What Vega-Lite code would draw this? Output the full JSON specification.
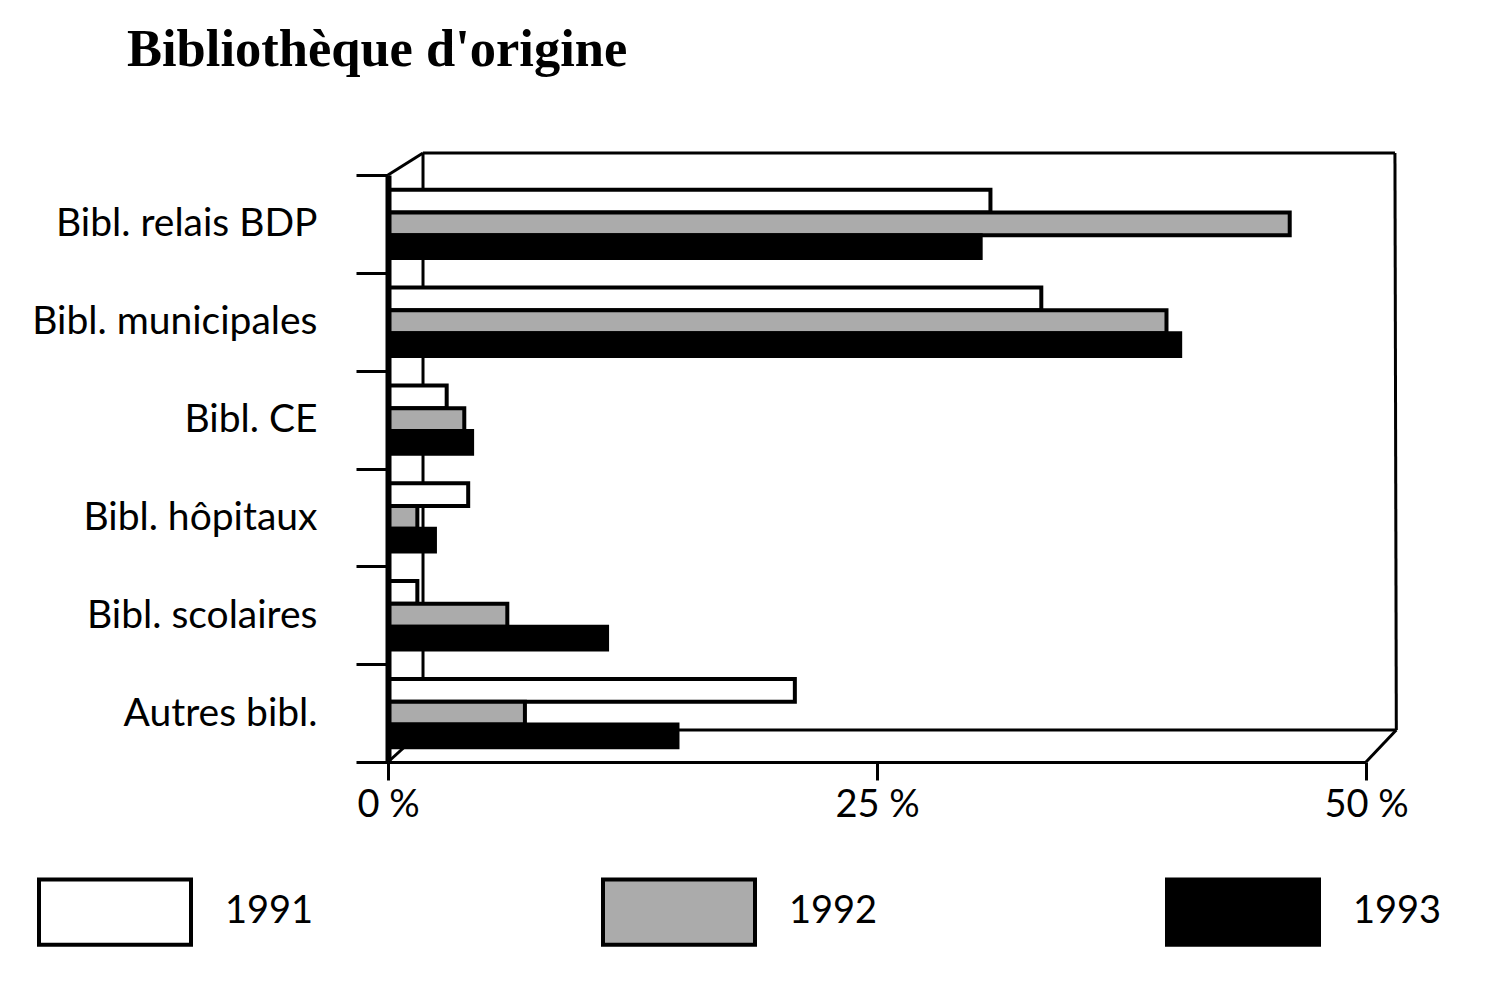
{
  "$schema": "https://vega.github.io/schema/vega-lite/v6.json",
  "width": 978,
  "height": 609,
  "autosize": {"type": "none"},
  "padding": {"left": 388, "top": 153, "right": 119, "bottom": 219},
  "background": "white",
  "config": {"view": {"stroke": null}, "font": "Lato"},
  "title": {
    "text": "Bibliothèque d'origine",
    "anchor": "start",
    "frame": "group",
    "dx": -261,
    "font": "Liberation Serif",
    "fontSize": 52.5,
    "fontWeight": "bold",
    "color": "black",
    "baseline": "alphabetic",
    "offset": 16
  },
  "datasets": {
    "bars": [
      {"categorie": "Bibl. relais BDP", "annee": "1991", "pourcentage": 30.8},
      {"categorie": "Bibl. relais BDP", "annee": "1992", "pourcentage": 46.1},
      {"categorie": "Bibl. relais BDP", "annee": "1993", "pourcentage": 30.3},
      {"categorie": "Bibl. municipales", "annee": "1991", "pourcentage": 33.4},
      {"categorie": "Bibl. municipales", "annee": "1992", "pourcentage": 39.8},
      {"categorie": "Bibl. municipales", "annee": "1993", "pourcentage": 40.5},
      {"categorie": "Bibl. CE", "annee": "1991", "pourcentage": 3.0},
      {"categorie": "Bibl. CE", "annee": "1992", "pourcentage": 3.9},
      {"categorie": "Bibl. CE", "annee": "1993", "pourcentage": 4.3},
      {"categorie": "Bibl. hôpitaux", "annee": "1991", "pourcentage": 4.1},
      {"categorie": "Bibl. hôpitaux", "annee": "1992", "pourcentage": 1.5},
      {"categorie": "Bibl. hôpitaux", "annee": "1993", "pourcentage": 2.4},
      {"categorie": "Bibl. scolaires", "annee": "1991", "pourcentage": 1.5},
      {"categorie": "Bibl. scolaires", "annee": "1992", "pourcentage": 6.1},
      {"categorie": "Bibl. scolaires", "annee": "1993", "pourcentage": 11.2},
      {"categorie": "Autres bibl.", "annee": "1991", "pourcentage": 20.8},
      {"categorie": "Autres bibl.", "annee": "1992", "pourcentage": 7.0},
      {"categorie": "Autres bibl.", "annee": "1993", "pourcentage": 14.8}
    ],
    "frame": [
      {"x0": 1.79, "y0": 6.246, "x1": 51.48, "y1": 6.246},
      {"x0": 51.48, "y0": 6.246, "x1": 51.55, "y1": 0.328},
      {"x0": 1.79, "y0": 0.328, "x1": 51.55, "y1": 0.328},
      {"x0": 1.79, "y0": 6.246, "x1": 1.79, "y1": 0.328},
      {"x0": 0, "y0": 6.02, "x1": 1.79, "y1": 6.246},
      {"x0": 0, "y0": 0, "x1": 1.79, "y1": 0.328},
      {"x0": 50, "y0": 0, "x1": 51.55, "y1": 0.328}
    ]
  },
  "layer": [
    {
      "data": {"name": "frame"},
      "mark": {"type": "rule", "stroke": "black", "strokeWidth": 3},
      "encoding": {
        "x": {"field": "x0", "type": "quantitative", "title": null, "scale": {"domain": [0, 50], "nice": false}},
        "x2": {"field": "x1"},
        "y": {"field": "y0", "type": "quantitative", "title": null, "scale": {"domain": [0, 6.246], "nice": false, "zero": false}, "axis": null},
        "y2": {"field": "y1"}
      }
    },
    {
      "data": {"name": "bars"},
      "mark": {"type": "bar", "stroke": "black", "strokeWidth": 4},
      "encoding": {
        "y": {
          "field": "categorie",
          "type": "nominal",
          "sort": ["Bibl. relais BDP", "Bibl. municipales", "Bibl. CE", "Bibl. hôpitaux", "Bibl. scolaires", "Autres bibl."],
          "scale": {"range": [22, 609], "paddingInner": 0, "paddingOuter": 0},
          "axis": {
            "title": null,
            "tickBand": "extent",
            "domainColor": "black",
            "domainWidth": 6,
            "tickColor": "black",
            "tickWidth": 3,
            "tickSize": 32,
            "labelFont": "Lato",
            "labelFontSize": 39,
            "labelColor": "black",
            "labelPadding": 39,
            "labelLimit": 400,
            "grid": false,
            "zindex": 1
          }
        },
        "yOffset": {"field": "annee", "type": "nominal", "scale": {"paddingInner": 0, "paddingOuter": 0.65}},
        "x": {
          "field": "pourcentage",
          "type": "quantitative",
          "scale": {"domain": [0, 50], "nice": false},
          "axis": {
            "title": null,
            "values": [0, 25, 50],
            "labelExpr": "datum.value + ' %'",
            "domainColor": "black",
            "domainWidth": 3,
            "tickColor": "black",
            "tickWidth": 3,
            "tickSize": 18,
            "labelFont": "Lato",
            "labelFontSize": 38,
            "labelColor": "black",
            "labelPadding": 6,
            "labelFlush": false,
            "grid": false,
            "zindex": 1
          }
        },
        "fill": {
          "field": "annee",
          "type": "nominal",
          "scale": {"domain": ["1991", "1992", "1993"], "range": ["white", "#ababab", "black"]},
          "legend": {
            "title": null,
            "orient": "none",
            "legendX": -351,
            "legendY": 681,
            "direction": "horizontal",
            "symbolType": "M-1,-0.43L1,-0.43L1,0.43L-1,0.43Z",
            "symbolSize": 23104,
            "symbolStrokeColor": "black",
            "symbolStrokeWidth": 4,
            "symbolOpacity": 1,
            "labelFont": "Lato",
            "labelFontSize": 38,
            "labelColor": "black",
            "labelBaseline": "middle",
            "labelOffset": 32,
            "columnPadding": 281
          }
        }
      }
    }
  ],
  "resolve": {"scale": {"y": "independent"}}
}
